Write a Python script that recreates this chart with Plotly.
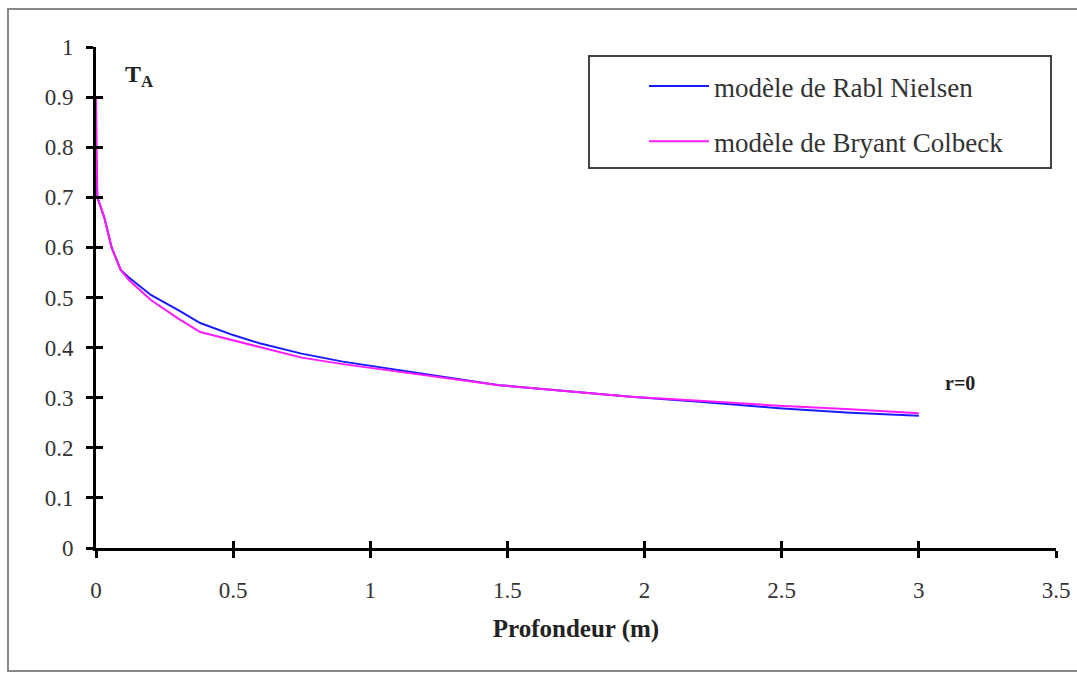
import plotly.graph_objects as go

depth = [0, 0.005, 0.03, 0.057, 0.09, 0.12, 0.2, 0.3, 0.38, 0.5, 0.6, 0.75, 0.9, 1.1, 1.3, 1.47, 1.7, 1.95, 2.2, 2.49, 2.75, 3.0]
rabl_nielsen = [0.77, 0.70, 0.66, 0.60, 0.555, 0.54, 0.505, 0.475, 0.449, 0.425, 0.408, 0.388, 0.372, 0.355, 0.338, 0.325, 0.314, 0.302, 0.292, 0.279, 0.270, 0.264]
bryant_colbeck = [0.90, 0.70, 0.66, 0.60, 0.555, 0.535, 0.495, 0.458, 0.431, 0.414, 0.400, 0.380, 0.367, 0.352, 0.338, 0.325, 0.314, 0.302, 0.294, 0.284, 0.277, 0.269]

x_ticks = [0, 0.5, 1, 1.5, 2, 2.5, 3, 3.5]
x_labels = ["0", "0.5", "1", "1.5", "2", "2.5", "3", "3.5"]
y_ticks = [0, 0.1, 0.2, 0.3, 0.4, 0.5, 0.6, 0.7, 0.8, 0.9, 1]
y_labels = ["0", "0.1", "0.2", "0.3", "0.4", "0.5", "0.6", "0.7", "0.8", "0.9", "1"]

FONT = "Liberation Serif"
L, R, T, B = 96, 21, 47, 125
W, H = 1077, 673
PW, PH = W - L - R, H - T - B


def px(xp):
    return (xp - L) / PW


def py(yp):
    return (H - B - yp) / PH


fig = go.Figure()
fig.add_trace(go.Scatter(x=depth, y=rabl_nielsen, mode="lines", name="modèle de Rabl Nielsen",
                         legendgroup="a", line=dict(color="#1a1aff", width=2)))
fig.add_trace(go.Scatter(x=depth, y=bryant_colbeck, mode="lines", name="modèle de Bryant Colbeck",
                         legendgroup="b", line=dict(color="#ff1aff", width=2)))
# transparent trace on overlay axes so their inside ticks render (cross ticks)
fig.add_trace(go.Scatter(x=[0], y=[0], xaxis="x2", yaxis="y2", mode="markers",
                         marker=dict(opacity=0), showlegend=False, hoverinfo="skip"))

axis_common = dict(showgrid=False, zeroline=False, showline=True, linecolor="black", linewidth=3,
                   automargin=False)

fig.update_layout(
    width=W, height=H,
    margin=dict(l=L, r=R, t=T, b=B),
    paper_bgcolor="white", plot_bgcolor="white",
    font=dict(family=FONT, size=23, color="#333333"),
    xaxis=dict(range=[0, 3.5], tickvals=x_ticks, ticktext=x_labels, ticks="outside", ticklen=7,
               tickwidth=3, tickcolor="black", ticklabelstandoff=12,
               title=dict(text="<b>Profondeur (m)</b>", font=dict(size=25, color="#222222"), standoff=18),
               **axis_common),
    yaxis=dict(range=[0, 1], tickvals=y_ticks, ticktext=y_labels, ticks="outside", ticklen=7,
               tickwidth=3, tickcolor="black", ticklabelstandoff=8, **axis_common),
    xaxis2=dict(range=[0, 3.5], overlaying="x", anchor="y2", side="bottom", tickvals=x_ticks,
                showticklabels=False, ticks="inside", ticklen=7, tickwidth=3, tickcolor="black",
                showgrid=False, zeroline=False, showline=False, automargin=False),
    yaxis2=dict(range=[0, 1], overlaying="y", anchor="x2", side="left", tickvals=y_ticks,
                showticklabels=False, ticks="inside", ticklen=7, tickwidth=3, tickcolor="black",
                showgrid=False, zeroline=False, showline=False, automargin=False),
    legend=dict(x=px(644), y=py(62), xanchor="left", yanchor="top",
                borderwidth=0, bgcolor="rgba(0,0,0,0)",
                font=dict(family=FONT, size=27, color="#333333"),
                traceorder="grouped", tracegroupgap=17, itemwidth=60),
    showlegend=True,
)

fig.add_annotation(xref="paper", yref="paper", x=px(139), y=py(76), xanchor="center", yanchor="middle",
                   text="<b>T<sub>A</sub></b>", showarrow=False,
                   font=dict(family=FONT, size=24, color="#222222"))
fig.add_annotation(xref="paper", yref="paper", x=px(960), y=py(383), xanchor="center", yanchor="middle",
                   text="<b>r=0</b>", showarrow=False,
                   font=dict(family=FONT, size=20, color="#222222"))

# legend frame
fig.add_shape(type="rect", xref="paper", yref="paper",
              x0=px(589), x1=px(1051), y0=py(168), y1=py(56),
              line=dict(color="#444444", width=2))
# outer chart frame
fig.add_shape(type="rect", xref="paper", yref="paper",
              x0=px(8), x1=px(1082), y0=py(671), y1=py(9),
              line=dict(color="#888888", width=2), layer="below")

fig.write_html("out.html")
